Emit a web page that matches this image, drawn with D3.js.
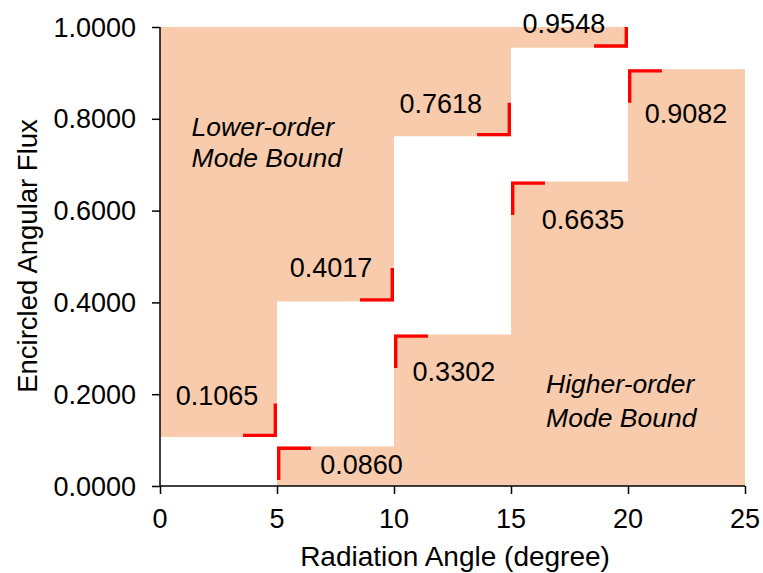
<!DOCTYPE html>
<html>
<head>
<meta charset="utf-8">
<script src="https://cdn.jsdelivr.net/npm/d3@7/dist/d3.min.js"></script>
<style>
  html, body { margin: 0; padding: 0; background: #fff; }
  svg { display: block; }
  text { font-family: "Liberation Sans", Arial, sans-serif; fill: #000; }
</style>
</head>
<body>
<svg id="chart" width="763" height="573"></svg>
<script>
// Radiation angle interval edges (degree)
const angleEdges = [0, 5, 10, 15, 20, 25];

// Lower-order mode bound: encircled flux at the end of each interval
const lowerOrderBound = [0.1065, 0.4017, 0.7618, 0.9548];
// Higher-order mode bound: encircled flux from the start of each interval
const higherOrderBound = [0.0000, 0.0860, 0.3302, 0.6635, 0.9082];

// Value label anchors in data units [angle, flux]
const lowerLabelAt = [[2.44, 0.176], [7.31, 0.455], [12.0, 0.812], [17.26, 0.987]];
const higherLabelAt = [[8.61, 0.026], [12.56, 0.229], [18.08, 0.560], [22.48, 0.791]];

const xTicks = [0, 5, 10, 15, 20, 25];
const yTicks = [0, 0.2, 0.4, 0.6, 0.8, 1.0];

const fillColor = "#F8CBAD";
const markColor = "#FF0000";

const svg = d3.select("#chart");
const x = d3.scaleLinear().domain([0, 25]).range([160, 745]);
const y = d3.scaleLinear().domain([0, 1]).range([486, 27]);

function label(g, str, px, py, opts = {}) {
  const t = g.append("text")
    .attr("transform", `translate(${px},${py}) rotate(${opts.rotate || 0})`)
    .attr("text-anchor", opts.anchor || "middle")
    .style("font-size", (opts.size || 27) + "px")
    .text(str);
  if (opts.italic) t.style("font-style", "italic");
  return t;
}

// ---- shaded regions ----
const lowerPts = [];
lowerOrderBound.forEach((v, i) => {
  lowerPts.push([angleEdges[i], v], [angleEdges[i + 1], v]);
});
const upperArea = d3.area()
  .x(d => x(d[0]))
  .y0(y(1))
  .y1(d => y(d[1]));
svg.append("path").attr("d", upperArea(lowerPts)).attr("fill", fillColor);

const higherPts = [];
higherOrderBound.forEach((v, i) => {
  higherPts.push([angleEdges[i], v], [angleEdges[i + 1], v]);
});
const lowerArea = d3.area()
  .x(d => x(d[0]))
  .y0(y(0))
  .y1(d => y(d[1]));
svg.append("path").attr("d", lowerArea(higherPts)).attr("fill", fillColor);

// ---- corner markers ----
const legX = 1.45, legY = 0.073, sw = 3.4, inset = sw / 2;
const line = d3.line();
lowerOrderBound.forEach((v, i) => {
  const cx = x(angleEdges[i + 1]) - inset, cy = y(v) - inset;
  const top = Math.max(y(Math.min(1, v + legY)), y(1));
  svg.append("path")
    .attr("d", line([[x(angleEdges[i + 1] - legX), cy], [cx, cy], [cx, top]]))
    .attr("fill", "none").attr("stroke", markColor)
    .attr("stroke-width", sw).attr("stroke-linejoin", "miter");
});
higherOrderBound.forEach((v, i) => {
  if (i === 0) return;
  const cx = x(angleEdges[i]) + inset, cy = y(v) + inset;
  svg.append("path")
    .attr("d", line([[cx, y(v - legY)], [cx, cy], [x(angleEdges[i] + legX), cy]]))
    .attr("fill", "none").attr("stroke", markColor)
    .attr("stroke-width", sw).attr("stroke-linejoin", "miter");
});

// ---- value labels ----
const labels = svg.append("g");
lowerOrderBound.forEach((v, i) => {
  const [a, f] = lowerLabelAt[i];
  label(labels, v.toFixed(4), x(a), y(f), { size: 27 });
});
higherOrderBound.forEach((v, i) => {
  if (i === 0) return;
  const [a, f] = higherLabelAt[i - 1];
  label(labels, v.toFixed(4), x(a), y(f), { size: 27 });
});

// ---- region names ----
const names = svg.append("g");
label(names, "Lower-order", x(1.35), y(0.7625), { size: 26.5, anchor: "start", italic: true });
label(names, "Mode Bound", x(1.35), y(0.695), { size: 26.5, anchor: "start", italic: true });
label(names, "Higher-order", x(16.5), y(0.2026), { size: 26.5, anchor: "start", italic: true });
label(names, "Mode Bound", x(16.5), y(0.1285), { size: 26.5, anchor: "start", italic: true });

// ---- axes ----
const xAxis = d3.axisBottom(x).tickValues(xTicks).tickSize(8).tickFormat("");
const yAxis = d3.axisLeft(y).tickValues(yTicks).tickSize(8).tickFormat("");
const gx = svg.append("g").attr("transform", `translate(0,${y(0)})`).call(xAxis);
const gy = svg.append("g").attr("transform", `translate(${x(0)},0)`).call(yAxis);
[gx, gy].forEach(g => {
  g.select(".domain").attr("stroke", "#000").attr("stroke-width", 1.5);
  g.selectAll(".tick line").attr("stroke", "#000").attr("stroke-width", 1.5);
});
gx.select(".domain").attr("d", `M${x(0)},0H${x(25)}`);
gy.select(".domain").attr("d", `M0,${y(0)}V${y(1)}`);

const tickText = svg.append("g");
xTicks.forEach(t => label(tickText, String(t), x(t), 528, { size: 27 }));
yTicks.forEach(t => label(tickText, t.toFixed(4), 136, y(t) + 9.5, { size: 27, anchor: "end" }));

// ---- axis titles ----
label(svg, "Radiation Angle (degree)", 455, 566, { size: 28 });
label(svg, "Encircled Angular Flux", 37, 256, { size: 27.5, rotate: -90 });
</script>
</body>
</html>
